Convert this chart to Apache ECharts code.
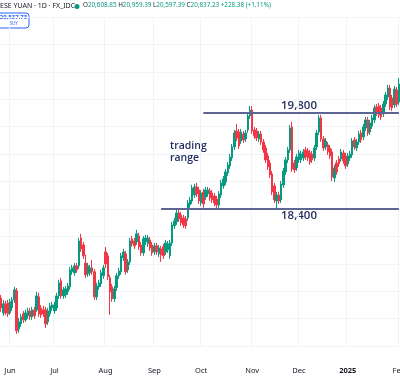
<!DOCTYPE html>
<html>
<head>
<meta charset="utf-8">
<script src="https://cdn.jsdelivr.net/npm/echarts@6/dist/echarts.min.js"></script>
<style>
  html, body { margin: 0; padding: 0; background: #fff; }
  #chart { width: 400px; height: 377px; }
</style>
</head>
<body>
<div id="chart"></div>
<script>
// daily candles, one per weekday from startDate: [open, close, low, high]
const startDate = '2024-05-28';
const ohlc = [
  [17102,16956,16898,17146],[16883,17015,16840,17073],[17015,16883,16854,17058],[17029,16869,16825,17073],
  [16883,17044,16854,17088],[16956,17073,16912,17117],[17073,17219,17029,17263],[17204,16621,16578,17248],
  [16650,16752,16592,16810],[16723,16825,16679,16869],[16869,16781,16737,16912],[16781,16883,16752,16927],
  [16840,16912,16796,16956],[16912,16825,16781,16956],[16825,16927,16781,16971],[16927,16840,16796,16971],
  [16927,17131,16898,17190],[17117,16869,16825,17175],[16956,16854,16810,17000],[16927,16869,16825,16986],
  [16927,16723,16665,16971],[16752,16912,16708,16956],[16869,16986,16825,17029],[16956,17000,16912,17044],
  [16912,17000,16869,17044],[16956,17131,16912,17175],[17131,17321,17088,17365],[17350,17131,17088,17394],
  [17131,17219,17088,17263],[17146,17234,17102,17277],[17190,17277,17146,17321],[17263,17511,17219,17554],
  [17482,17540,17438,17583],[17467,17569,17424,17612],[17569,17511,17467,17612],[17569,17933,17525,17977],
  [17977,17817,17773,18036],[17875,17715,17671,17919],[17612,17438,17394,17729],[17453,17569,17409,17612],
  [17467,17540,17424,17583],[17540,17482,17438,17656],[17482,17117,17073,17525],[17117,17277,17073,17321],
  [17263,17321,17219,17365],[17307,17467,17263,17511],[17424,17540,17380,17583],[17773,17598,17540,17846],
  [17715,17409,17365,17758],[17394,17190,16854,17438],[17263,17088,17044,17307],[17088,17234,17044,17277],
  [17248,17424,17204,17467],[17424,17496,17380,17540],[17482,17715,17438,17758],[17685,17773,17641,17817],
  [17744,17482,17438,17787],[17511,17627,17467,17671],[17627,17933,17583,17977],[17963,17890,17846,18006],
  [17933,17860,17817,17977],[17919,18036,17875,18094],[18006,17846,17802,18050],[17875,17758,17715,17919],
  [17758,17963,17715,18006],[17919,17977,17875,18021],[17890,17977,17846,18021],[17948,17831,17787,17992],
  [17875,17758,17715,17919],[17773,17860,17729,17904],[17860,17773,17729,17904],[17744,17831,17700,17875],
  [17817,17729,17627,17860],[17846,17715,17671,17890],[17773,17904,17729,17948],[17802,17890,17758,17933],
  [17715,17904,17671,17948],[17904,18167,17860,18211],[18153,18225,18109,18270],[18211,18342,18167,18386],
  [18342,18255,18211,18386],[18313,18196,18153,18357],[18269,18167,18123,18313],[18255,18153,18109,18298],
  [18269,18487,18225,18531],[18458,18531,18415,18575],[18516,18706,18473,18750],[18604,18721,18560,18765],
  [18721,18619,18575,18779],[18677,18516,18473,18721],[18487,18633,18444,18677],[18648,18473,18415,18692],
  [18575,18677,18531,18721],[18619,18677,18575,18721],[18662,18560,18516,18706],[18633,18531,18487,18677],
  [18589,18487,18444,18633],[18546,18458,18400,18589],[18458,18619,18415,18662],[18604,18779,18560,18823],
  [18735,18838,18692,18881],[18794,18940,18750,18983],[18925,19042,18881,19086],[19028,19159,18984,19203],
  [19144,19305,19100,19348],[19305,19508,19261,19552],[19537,19435,19391,19640],[19523,19319,19275,19567],
  [19391,19523,19348,19567],[19494,19406,19362,19537],[19421,19508,19377,19552],[19552,19756,19508,19800],
  [19756,19844,19712,19902],[19844,19537,19494,19902],[19552,19465,19421,19596],[19537,19435,19391,19581],
  [19421,19494,19377,19537],[19494,19377,19333,19537],[19377,19261,19217,19421],[19290,19115,19071,19333],
  [19173,19013,18969,19217],[19071,18896,18852,19115],[18911,18648,18604,18954],[18735,18531,18487,18779],
  [18516,18604,18400,18648],[18604,18516,18473,18648],[18531,18765,18487,18808],[18750,18954,18706,18998],
  [18940,19115,18896,19159],[19115,19261,19071,19305],[19261,19581,19217,19625],[19596,18984,18940,19669],
  [19071,18969,18925,19115],[18998,19159,18954,19203],[19115,19217,19071,19261],[19115,19203,19071,19246],
  [19144,19232,19100,19275],[19261,19159,19115,19305],[19246,19144,19100,19290],[19217,19086,19042,19261],
  [19203,19115,19071,19246],[19144,19290,19100,19333],[19305,19508,19261,19552],[19523,19727,19479,19771],
  [19727,19421,19377,19771],[19421,19290,19246,19465],[19305,19391,19261,19435],[19333,19232,19188,19377],
  [19290,19173,19130,19333],[19232,18867,18808,19275],[18852,18998,18794,19042],[19071,18940,18896,19115],
  [19130,19057,19013,19173],[19130,19232,19086,19275],[19217,19100,19057,19261],[19173,19028,18984,19217],
  [19057,19173,19013,19217],[19144,19203,19100,19246],[19188,19391,19144,19435],[19406,19305,19261,19450],
  [19290,19377,19246,19421],[19377,19494,19333,19537],[19508,19406,19362,19552],[19450,19596,19406,19640],
  [19581,19698,19537,19742],[19698,19508,19465,19742],[19523,19654,19479,19698],[19611,19727,19567,19771],
  [19698,19873,19654,19917],[19888,19800,19756,19932],[19902,19771,19727,19946],[19873,19742,19698,19917],
  [19786,19932,19742,19975],[19932,20063,19888,20107],[20034,20164,19990,20208],[20164,19888,19844,20208],
  [20019,19873,19829,20063],[19917,20150,19873,20194],[20136,19932,19888,20179],[19961,20223,19917,20310]
];

// support / resistance levels and the day each drawn line starts
const levels = [19800, 18400];
const levelFrom = ['2024-10-02', '2024-09-05'];
const levelText = ['19,800', '18,400'];

const monthNames = ['Jan', 'Feb', 'Mar', 'Apr', 'May', 'Jun', 'Jul', 'Aug', 'Sep', 'Oct', 'Nov', 'Dec'];
const quote = ['20,608.85', '20,959.39', '20,597.39', '20,837.23', '+228.38 (+1.11%)'];

const UP = '#089981';
const DOWN = '#f23645';
const NAVY = '#1f2b5b';

// trading days (weekdays) for the category axis
const dates = [];
const d = new Date(startDate + 'T00:00:00Z');
while (dates.length < ohlc.length) {
  const wd = d.getUTCDay();
  if (wd !== 0 && wd !== 6) dates.push(d.toISOString().slice(0, 10));
  d.setUTCDate(d.getUTCDate() + 1);
}
const lastDate = dates[dates.length - 1];

const isMonthStart = (i) => i > 0 && dates[i].slice(5, 7) !== dates[i - 1].slice(5, 7);

const chart = echarts.init(document.getElementById('chart'));

const op = {
  animation: false,
  backgroundColor: '#ffffff',
  grid: { left: 0, right: 0, top: 17, bottom: 31, containLabel: false, outerBoundsMode: 'none' },
  xAxis: {
    type: 'category',
    data: dates,
    axisLine: { show: false },
    axisTick: { show: false },
    axisLabel: {
      interval: (i) => isMonthStart(i),
      margin: 21,
      color: '#131722',
      fontSize: 7.5,
      fontFamily: 'Noto Sans',
      formatter: (v) => {
        const m = +v.slice(5, 7);
        if (m === 1) return '{b|' + v.slice(0, 4) + '}';
        return monthNames[m - 1];
      },
      rich: {
        b: { fontWeight: 'bold', fontSize: 7.5, color: '#131722', fontFamily: 'Noto Sans' }
      }
    },
    splitLine: {
      show: true,
      interval: (i) => isMonthStart(i),
      lineStyle: { color: '#f0f3fa', width: 1 }
    }
  },
  yAxis: {
    type: 'value',
    position: 'right',
    min: 16400,
    max: 21200,
    interval: 400,
    axisLine: { show: false },
    axisTick: { show: false },
    axisLabel: { show: false },
    splitLine: { lineStyle: { color: '#f0f3fa', width: 1 } }
  },
  series: [
    {
      type: 'candlestick',
      data: ohlc,
      barWidth: 2,
      itemStyle: {
        color: UP,
        color0: DOWN,
        borderColor: UP,
        borderColor0: DOWN,
        borderWidth: 1
      },
      markLine: {
        silent: true,
        symbol: 'none',
        label: { show: false },
        lineStyle: { color: '#5d6592', width: 2, type: 'solid' },
        data: levels.map((v, k) => [
          { coord: [levelFrom[k], v] },
          { coord: [lastDate, v] }
        ])
      }
    }
  ],
  graphic: [
    {
      type: 'text', x: 0, y: 2,
      style: { text: 'ESE YUAN · 1D · FX_IDC', fontSize: 7, fontFamily: 'Noto Sans', fill: '#131722' }
    },
    { type: 'circle', shape: { cx: 77, cy: 6.5, r: 2.5 }, style: { fill: UP } },
    {
      type: 'text', x: 83, y: 2,
      style: {
        text: 'O{v|' + quote[0] + '} H{v|' + quote[1] + '} L{v|' + quote[2] + '} C{v|' + quote[3] + '} {v|' + quote[4] + '}',
        fontSize: 6.3, fontFamily: 'Noto Sans', fill: '#131722',
        rich: { v: { fill: UP, fontSize: 6.3, fontFamily: 'Noto Sans' } }
      }
    },
    {
      type: 'rect', shape: { x: -4, y: 13, width: 33, height: 15, r: 3 },
      style: { fill: '#ffffff', stroke: '#2962ff', lineWidth: 1 }
    },
    {
      type: 'text', x: 13.5, y: 17.5,
      style: { text: '20,837.73', fontSize: 6, fontWeight: 'bold', fontFamily: 'Noto Sans', fill: '#2962ff', align: 'center', verticalAlign: 'middle' }
    },
    {
      type: 'text', x: 13.5, y: 24,
      style: { text: 'BUY', fontSize: 4.5, fontFamily: 'Noto Sans', fill: '#2962ff', align: 'center', verticalAlign: 'middle' }
    },
    {
      type: 'text', x: 299, y: 106,
      style: { text: levelText[0], fontSize: 11.5, fontWeight: 600, fontFamily: 'Open Sans', fill: NAVY, align: 'center', verticalAlign: 'middle' }
    },
    {
      type: 'text', x: 299, y: 216,
      style: { text: levelText[1], fontSize: 11.5, fontWeight: 600, fontFamily: 'Open Sans', fill: NAVY, align: 'center', verticalAlign: 'middle' }
    },
    {
      type: 'text', x: 170, y: 140,
      style: { text: 'trading\nrange', fontSize: 10.5, lineHeight: 12, fontWeight: 600, fontFamily: 'Open Sans', fill: NAVY }
    }
  ]
};

chart.setOption(op);
</script>
</body>
</html>
